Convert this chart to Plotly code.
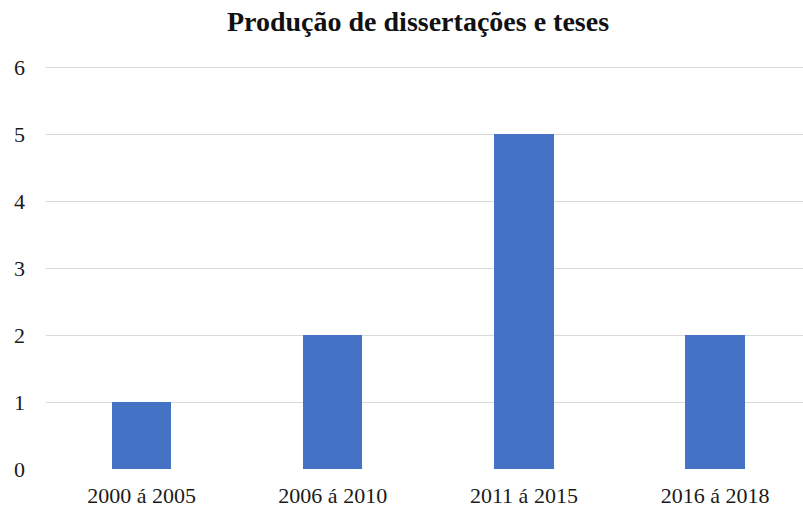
import plotly.graph_objects as go

categories = ["2000 á 2005", "2006 á 2010", "2011 á 2015", "2016 á 2018"]
values = [1, 2, 5, 2]
y_ticks = [0, 1, 2, 3, 4, 5, 6]

positions = list(range(len(categories)))

fig = go.Figure(go.Bar(
    x=positions, y=values, width=0.31,
    marker=dict(color="#4472C4", line=dict(width=0)),
))

fig.update_layout(
    width=803, height=512,
    margin=dict(l=46, r=0, t=66, b=43),
    paper_bgcolor="white", plot_bgcolor="white",
    showlegend=False,
    font=dict(family="Liberation Serif, Times New Roman, serif", size=22, color="#1a1a1a"),
    title=dict(
        text="<b>Produção de dissertações e teses</b>",
        x=418/803, xref="container", xanchor="center",
        y=1-21/512, yref="container", yanchor="middle",
        font=dict(family="Liberation Serif, Times New Roman, serif", size=28, color="#111111"),
    ),
    bargap=0,
)

fig.update_xaxes(
    range=[-0.5, 3.46], tickmode="array", tickvals=positions, ticktext=categories,
    showgrid=False, zeroline=False, showline=False, ticks="", ticklabelstandoff=11,
)
fig.update_yaxes(
    range=[0, 6.02], tickmode="array", tickvals=y_ticks,
    showgrid=True, gridcolor="#d9d9d9", gridwidth=1,
    zeroline=False, showline=False, ticks="", ticklabelstandoff=20,
)

fig.write_html(
    "out.html",
    config={"displayModeBar": False},
    post_script="document.body.style.margin='0';document.body.style.padding='0';",
)
